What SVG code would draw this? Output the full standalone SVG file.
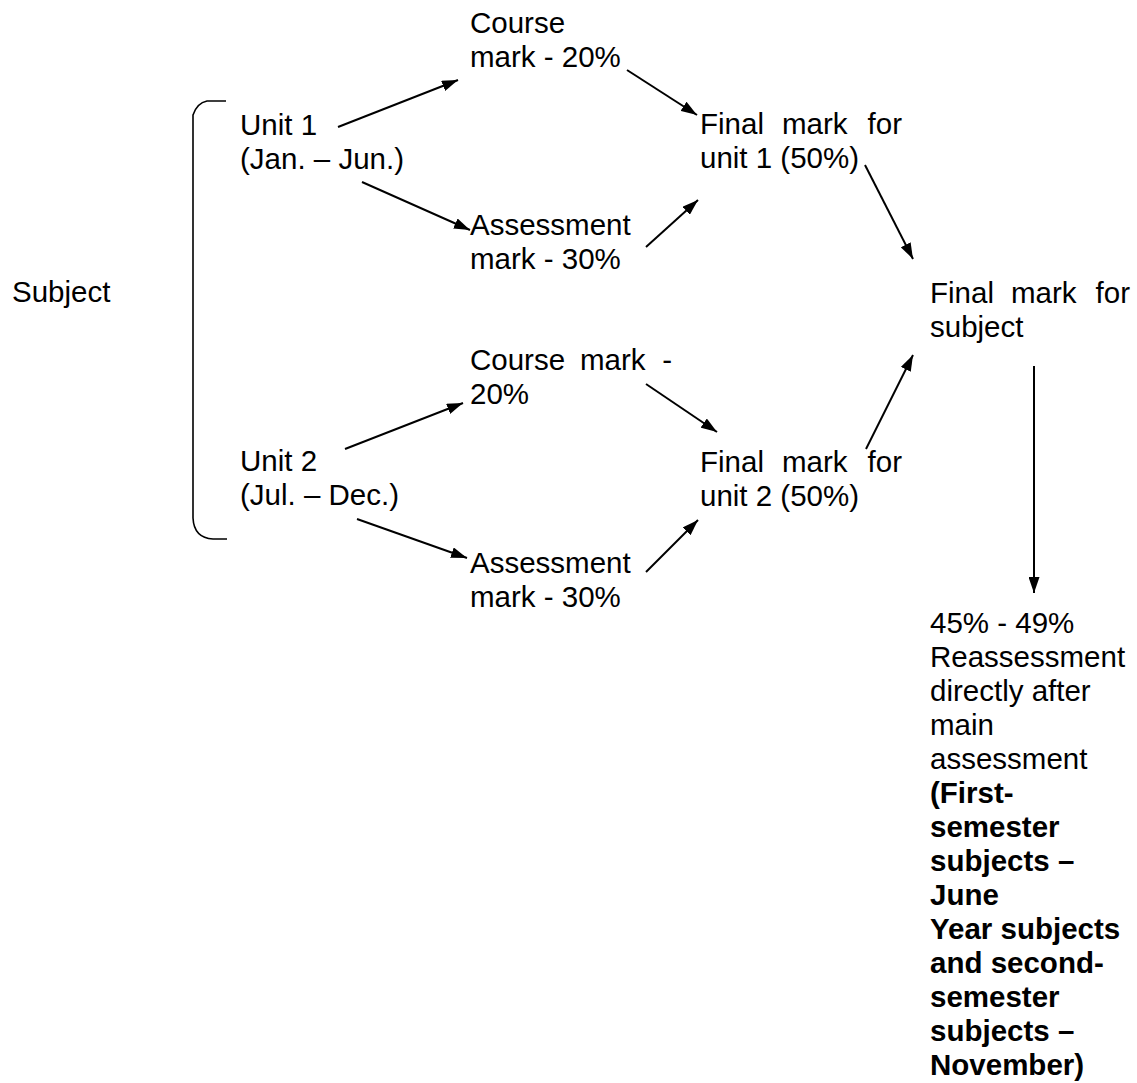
<svg xmlns="http://www.w3.org/2000/svg" width="1137" height="1083" viewBox="0 0 1137 1083">
<style>
text{font-family:"Liberation Sans",Arial,sans-serif;font-size:29.5px;fill:#000}
.b{font-weight:bold}
.e{text-anchor:end}
.c{stroke:#000;stroke-width:2;fill:none}
</style>
<defs>
<marker id="ah" viewBox="0 0 16 11" refX="16" refY="5.5" markerWidth="16" markerHeight="11" markerUnits="userSpaceOnUse" orient="auto">
<path d="M0,0 L16,5.5 L0,11 z" fill="#000"/>
</marker>
</defs>
<rect width="1137" height="1083" fill="#fff"/>
<g id="bracket"><path class="c" style="stroke-width:1.6" d="M226,101 L207,101 Q197,103 193,115 L193,518 Q194,538 213,539 L227,539"/></g>
<g id="subject"><text x="12" y="302">Subject</text></g>
<g id="unit1"><text x="240" y="135">Unit 1</text><text x="240" y="169">(Jan. – Jun.)</text></g>
<g id="course1"><text x="470" y="33">Course</text><text x="470" y="67">mark - 20%</text></g>
<g id="assess1"><text x="470" y="235">Assessment</text><text x="470" y="269">mark - 30%</text></g>
<g id="final1"><text x="700" y="134">Final</text><text x="782" y="134">mark</text><text class="e" x="902" y="134">for</text><text x="700" y="168">unit 1 (50%)</text></g>
<g id="unit2"><text x="240" y="471">Unit 2</text><text x="240" y="505">(Jul. – Dec.)</text></g>
<g id="course2"><text x="470" y="370">Course</text><text x="580" y="370">mark</text><text class="e" x="672" y="370">-</text><text x="470" y="404">20%</text></g>
<g id="assess2"><text x="470" y="573">Assessment</text><text x="470" y="607">mark - 30%</text></g>
<g id="final2"><text x="700" y="472">Final</text><text x="782" y="472">mark</text><text class="e" x="902" y="472">for</text><text x="700" y="506">unit 2 (50%)</text></g>
<g id="finalsubject"><text x="930" y="303">Final</text><text x="1011" y="303">mark</text><text class="e" x="1130" y="303">for</text><text x="930" y="337">subject</text></g>
<g id="reassessment">
<text x="930" y="633">45% - 49%</text>
<text x="930" y="667">Reassessment</text>
<text x="930" y="701">directly after</text>
<text x="930" y="735">main</text>
<text x="930" y="769">assessment</text>
<text class="b" x="930" y="803">(First-</text>
<text class="b" x="930" y="837">semester</text>
<text class="b" x="930" y="871">subjects –</text>
<text class="b" x="930" y="905">June</text>
<text class="b" x="930" y="939">Year subjects</text>
<text class="b" x="930" y="973">and second-</text>
<text class="b" x="930" y="1007">semester</text>
<text class="b" x="930" y="1041">subjects –</text>
<text class="b" x="930" y="1075">November)</text>
</g>
<g id="connectors" class="c" marker-end="url(#ah)">
<line class="c" marker-end="url(#ah)" x1="338" y1="127" x2="458" y2="80"/>
<line class="c" marker-end="url(#ah)" x1="362" y1="182" x2="470" y2="230"/>
<line class="c" marker-end="url(#ah)" x1="627" y1="70" x2="697" y2="115"/>
<line class="c" marker-end="url(#ah)" x1="646" y1="247" x2="698" y2="200"/>
<line class="c" marker-end="url(#ah)" x1="865" y1="165" x2="913" y2="259"/>
<line class="c" marker-end="url(#ah)" x1="345" y1="449" x2="463" y2="403"/>
<line class="c" marker-end="url(#ah)" x1="357" y1="519" x2="467" y2="558"/>
<line class="c" marker-end="url(#ah)" x1="646" y1="384" x2="717" y2="432"/>
<line class="c" marker-end="url(#ah)" x1="646" y1="572" x2="698" y2="520"/>
<line class="c" marker-end="url(#ah)" x1="866" y1="449" x2="913" y2="355"/>
<line class="c" marker-end="url(#ah)" x1="1034" y1="366" x2="1034" y2="593"/>
</g>
</svg>
